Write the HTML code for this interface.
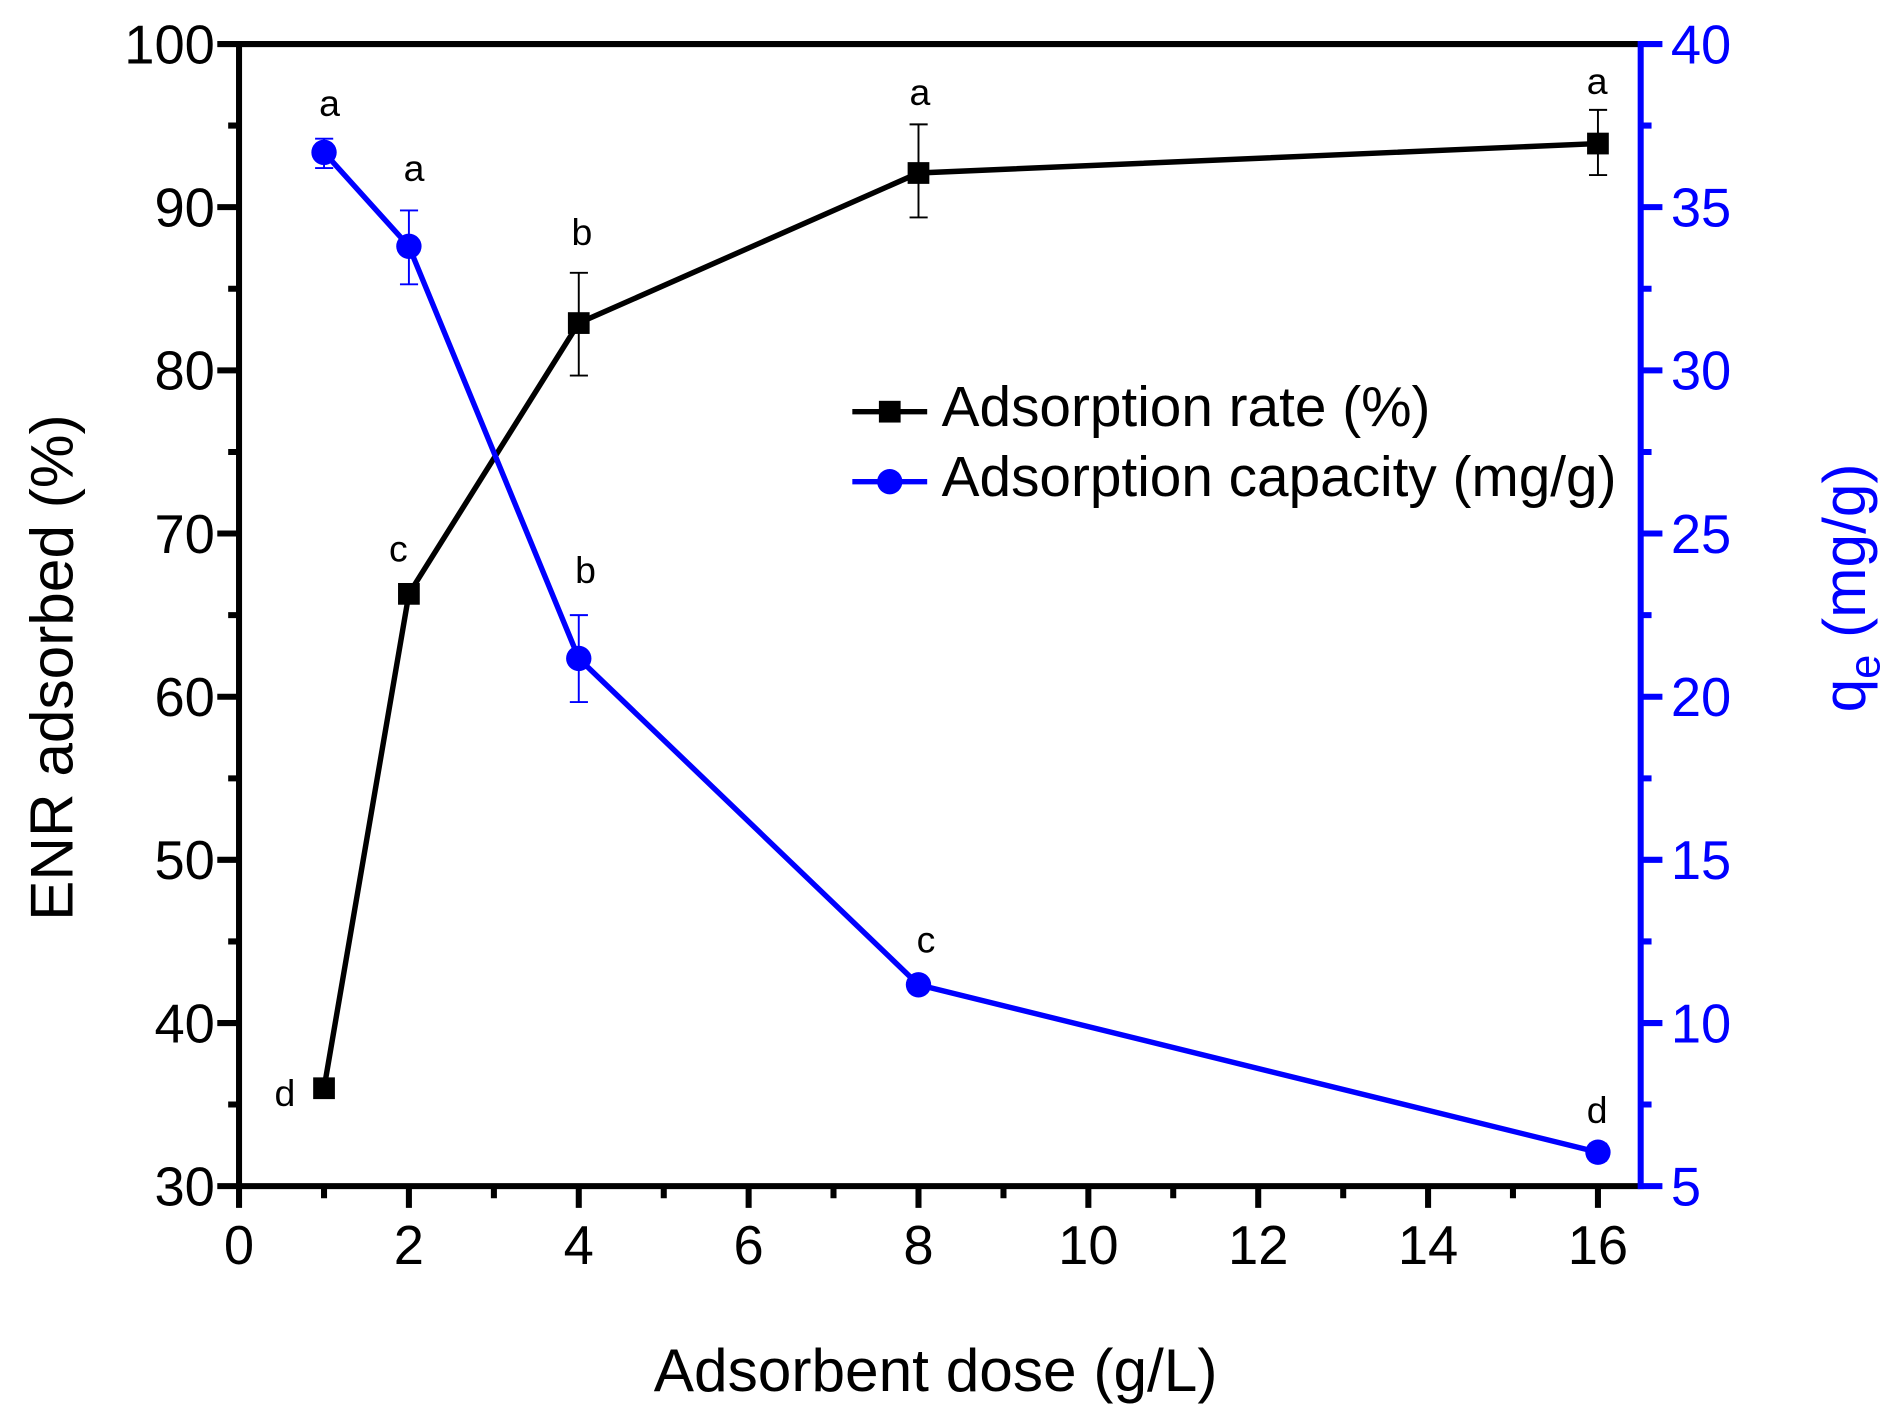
<!DOCTYPE html>
<html><head><meta charset="utf-8"><style>html,body{margin:0;padding:0;background:#fff}svg{display:block}</style></head>
<body>
<svg width="1893" height="1420" viewBox="0 0 1568 1176.2" preserveAspectRatio="none" xmlns="http://www.w3.org/2000/svg" font-family="Liberation Sans, Arial, sans-serif">
<rect width="1568" height="1177" fill="#fff"/>
<polyline points="268.4,901.4 338.7,491.9 479.4,267.6 760.8,143.3 1323.6,118.9" fill="none" stroke="#000" stroke-width="4.5"/>
<polyline points="268.4,126.2 338.7,204 479.4,545.4 760.8,815.7 1323.6,954.4" fill="none" stroke="#0000ff" stroke-width="4.5"/>
<g stroke="#000" stroke-width="1.6" fill="none">
<path d="M479.4,226V311.1M472,226h15M472,311.1h15"/>
<path d="M760.8,103V180.1M753.4,103h15M753.4,180.1h15"/>
<path d="M1323.6,91V145M1316.2,91h15M1316.2,145h15"/>
</g>
<g stroke="#0000ff" stroke-width="1.6" fill="none">
<path d="M268.4,114.9V139.2M261,114.9h15M261,139.2h15"/>
<path d="M338.7,174.3V235.5M331.3,174.3h15M331.3,235.5h15"/>
<path d="M479.4,509.5V581.5M472,509.5h15M472,581.5h15"/>
<path d="M1323.6,947.4V961.4M1316.2,947.4h15M1316.2,961.4h15"/>
</g>
<g fill="#000">
<rect x="259.4" y="892.4" width="18" height="18"/>
<rect x="329.7" y="482.9" width="18" height="18"/>
<rect x="470.4" y="258.6" width="18" height="18"/>
<rect x="751.8" y="134.3" width="18" height="18"/>
<rect x="1314.6" y="109.9" width="18" height="18"/>
</g>
<g fill="#0000ff">
<circle cx="268.4" cy="126.2" r="10.5"/>
<circle cx="338.7" cy="204" r="10.5"/>
<circle cx="479.4" cy="545.4" r="10.5"/>
<circle cx="760.8" cy="815.7" r="10.5"/>
<circle cx="1323.6" cy="954.4" r="10.5"/>
</g>
<g font-size="31" fill="#000" text-anchor="middle">
<text x="236" y="916">d</text><text x="330" y="465">c</text><text x="482" y="203">b</text><text x="762" y="87">a</text><text x="1323" y="78">a</text>
<text x="273" y="96">a</text><text x="343" y="150">a</text><text x="485" y="483">b</text><text x="767" y="789">c</text><text x="1323" y="930">d</text>
</g>
<g stroke="#000" stroke-width="5" fill="none">
<path d="M198,36.5H1359M198,34V985M196,982.5H1359"/>
<path d="M180,36.5h18M180,171.6h18M180,306.8h18M180,441.9h18M180,577.1h18M180,712.2h18M180,847.4h18M180,982.5h18"/>
<path d="M189,104h9M189,239.2h9M189,374.4h9M189,509.5h9M189,644.7h9M189,779.8h9M189,914.9h9"/>
<path d="M198,982.5v18M338.7,982.5v18M479.4,982.5v18M620.1,982.5v18M760.8,982.5v18M901.5,982.5v18M1042.2,982.5v18M1182.9,982.5v18M1323.6,982.5v18"/>
<path d="M268.4,982.5v10M409.1,982.5v10M549.8,982.5v10M690.4,982.5v10M831.2,982.5v10M971.8,982.5v10M1112.6,982.5v10M1253.2,982.5v10"/>
</g>
<g stroke="#0000ff" stroke-width="5" fill="none">
<path d="M1359,34V985"/>
<path d="M1359,36.5h18M1359,171.6h18M1359,306.8h18M1359,441.9h18M1359,577.1h18M1359,712.2h18M1359,847.4h18M1359,982.5h18"/>
<path d="M1359,104h9M1359,239.2h9M1359,374.4h9M1359,509.5h9M1359,644.7h9M1359,779.8h9M1359,914.9h9"/>
</g>
<g font-size="45" fill="#000" text-anchor="end">
<text x="178" y="52.5">100</text><text x="178" y="187.6">90</text><text x="178" y="322.8">80</text><text x="178" y="457.9">70</text><text x="178" y="593.1">60</text><text x="178" y="728.2">50</text><text x="178" y="863.4">40</text><text x="178" y="998.5">30</text>
</g>
<g font-size="45" fill="#000" text-anchor="middle">
<text x="198" y="1047">0</text><text x="338.7" y="1047">2</text><text x="479.4" y="1047">4</text><text x="620.1" y="1047">6</text><text x="760.8" y="1047">8</text><text x="901.5" y="1047">10</text><text x="1042.2" y="1047">12</text><text x="1182.9" y="1047">14</text><text x="1323.6" y="1047">16</text>
</g>
<g font-size="45" fill="#0000ff" text-anchor="start">
<text x="1384" y="52.5">40</text><text x="1384" y="187.6">35</text><text x="1384" y="322.8">30</text><text x="1384" y="457.9">25</text><text x="1384" y="593.1">20</text><text x="1384" y="728.2">15</text><text x="1384" y="863.4">10</text><text x="1384" y="998.5">5</text>
</g>
<text x="775" y="1152" font-size="50" text-anchor="middle" fill="#000">Adsorbent dose (g/L)</text>
<text transform="translate(60,553) rotate(-90)" font-size="50" text-anchor="middle" fill="#000">ENR adsorbed (%)</text>
<text transform="translate(1545,487) rotate(-90)" font-size="50" text-anchor="middle" fill="#0000ff">q<tspan font-size="36" dy="12">e</tspan><tspan dy="-12"> (mg/g)</tspan></text>
<path d="M706,341H768" stroke="#000" stroke-width="4.5"/>
<rect x="728" y="332" width="18" height="18" fill="#000"/>
<text x="780" y="353" font-size="47" fill="#000">Adsorption rate (%)</text>
<path d="M706,399H768" stroke="#0000ff" stroke-width="4.5"/>
<circle cx="737" cy="399" r="10.5" fill="#0000ff"/>
<text x="780" y="411" font-size="47" fill="#000">Adsorption capacity (mg/g)</text>
</svg>
</body></html>
